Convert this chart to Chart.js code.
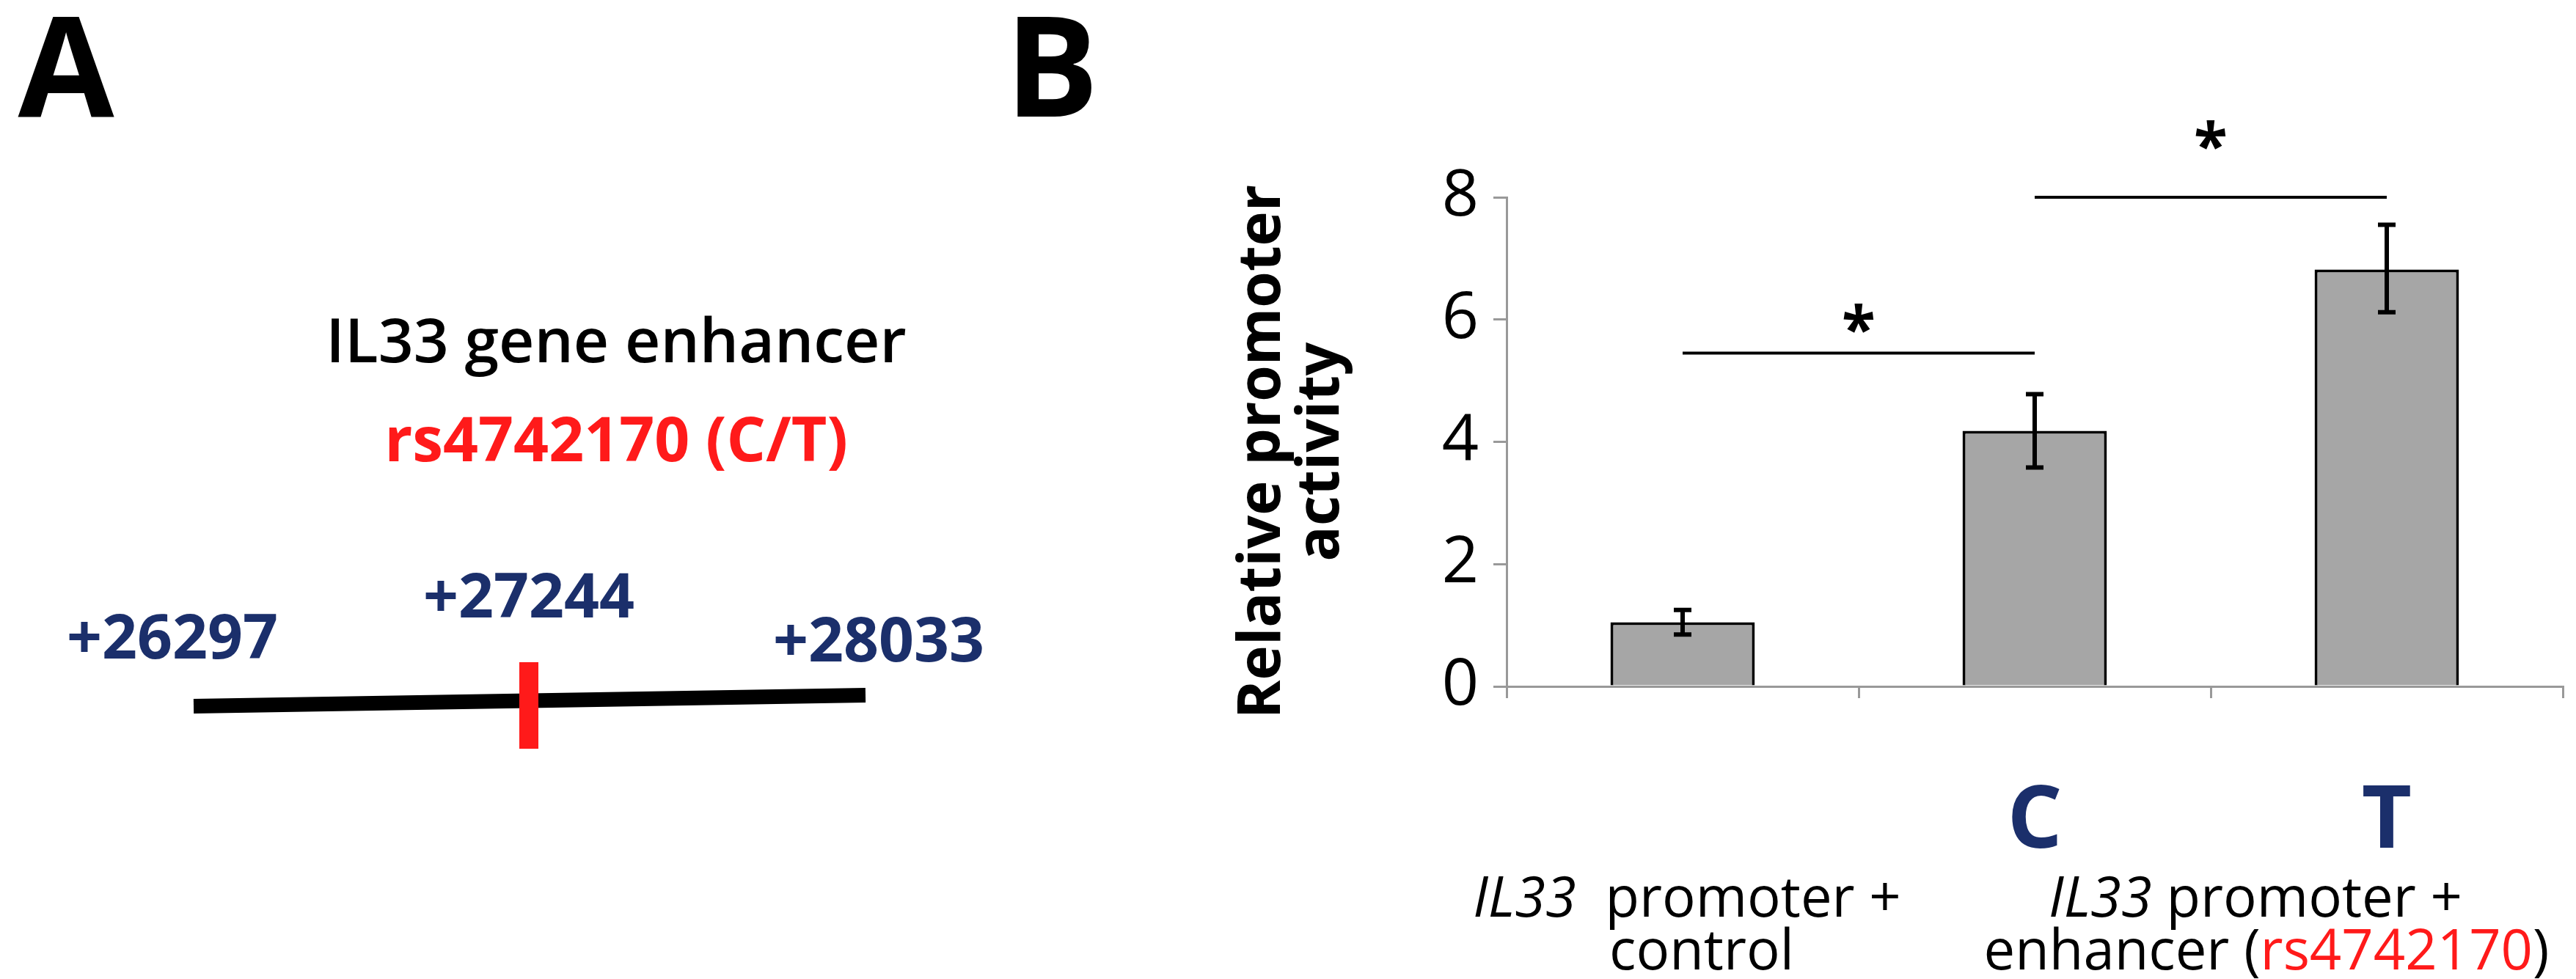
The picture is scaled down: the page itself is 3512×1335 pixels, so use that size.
<!DOCTYPE html>
<html>
<head>
<meta charset="utf-8">
<script src="https://cdn.jsdelivr.net/npm/chart.js@4"></script>
<style>
  html, body { margin: 0; padding: 0; background: #fff; }
  #wrap { width: 3512px; height: 1335px; position: relative; }
</style>
</head>
<body>
<div id="wrap"><canvas id="chart"></canvas></div>
<script>
// --- Data ---
const categories = ['control', 'C', 'T'];
const tickLabels = ['', 'C', 'T'];
const activity = [1.05, 4.18, 6.82];
const errLow = [0.85, 3.58, 6.12];
const errHigh = [1.25, 4.78, 7.55];
// significance brackets: [fromIndex, toIndex, lineValue, starValue]
const brackets = [[0, 1, 5.45, 6.0], [1, 2, 8.0, 9.0]];

const NAVY = '#1b2f6b';
const RED = '#ff1a1a';
const FONT = "'Open Sans', 'Noto Sans', sans-serif";

const extras = {
    id: 'extras',
    afterDatasetsDraw(chart) {
        const ctx = chart.ctx;
        const x = chart.scales.x, y = chart.scales.y;
        ctx.save();
        // error bars
        ctx.strokeStyle = '#000';
        ctx.lineWidth = 6;
        activity.forEach((v, i) => {
            const px = x.getPixelForValue(i);
            const lo = y.getPixelForValue(errLow[i]);
            const hi = y.getPixelForValue(errHigh[i]);
            ctx.beginPath();
            ctx.moveTo(px, lo); ctx.lineTo(px, hi);
            ctx.moveTo(px - 12, lo); ctx.lineTo(px + 12, lo);
            ctx.moveTo(px - 12, hi); ctx.lineTo(px + 12, hi);
            ctx.stroke();
        });
        // significance brackets
        ctx.lineWidth = 4;
        ctx.fillStyle = '#000';
        ctx.textAlign = 'center';
        ctx.textBaseline = 'middle';
        ctx.font = `bold 84px ${FONT}`;
        brackets.forEach(([a, b, lv, sv]) => {
            const x1 = x.getPixelForValue(a), x2 = x.getPixelForValue(b);
            const ly = y.getPixelForValue(lv);
            ctx.beginPath(); ctx.moveTo(x1, ly); ctx.lineTo(x2, ly); ctx.stroke();
            ctx.fillText('*', (x1 + x2) / 2, y.getPixelForValue(sv) + 18);
        });
        ctx.restore();
    },
    afterDraw(chart) {
        const ctx = chart.ctx;
        ctx.save();
        ctx.textAlign = 'center';
        ctx.textBaseline = 'middle';

        // panel letters
        ctx.fillStyle = '#000';
        ctx.font = `bold 190px ${FONT}`;
        ctx.fillText('A', 90, 105);
        ctx.fillText('B', 1434, 105);

        // panel A diagram
        ctx.font = `600 84px ${FONT}`;
        ctx.fillText('IL33 gene enhancer', 840, 470);
        ctx.fillStyle = RED;
        ctx.font = `bold 84px ${FONT}`;
        ctx.fillText('rs4742170 (C/T)', 840, 605);
        ctx.fillStyle = NAVY;
        ctx.font = `bold 84px ${FONT}`;
        ctx.fillText('+26297', 235, 874);
        ctx.fillText('+27244', 721, 818);
        ctx.fillText('+28033', 1198, 878);
        ctx.strokeStyle = '#000';
        ctx.lineWidth = 20;
        ctx.beginPath(); ctx.moveTo(264, 963); ctx.lineTo(1180, 948); ctx.stroke();
        ctx.strokeStyle = RED;
        ctx.lineWidth = 26;
        ctx.beginPath(); ctx.moveTo(721, 903); ctx.lineTo(721, 1021); ctx.stroke();

        // y axis title
        ctx.fillStyle = '#000';
        ctx.font = `bold 80px ${FONT}`;
        ctx.save();
        ctx.translate(1722, 616);
        ctx.rotate(-Math.PI / 2);
        ctx.fillText('Relative promoter', 0, 0);
        ctx.fillText('activity', 0, 80);
        ctx.restore();

        // bottom group labels
        const line = (parts, cx, cy) => {
            const widths = parts.map(p => { ctx.font = p[1]; return ctx.measureText(p[0]).width; });
            let px = cx - widths.reduce((s, w) => s + w, 0) / 2;
            ctx.textAlign = 'left';
            parts.forEach((p, i) => {
                ctx.font = p[1]; ctx.fillStyle = p[2] || '#000';
                ctx.fillText(p[0], px, cy); px += widths[i];
            });
            ctx.textAlign = 'center';
        };
        const reg = `500 76px ${FONT}`, ital = `italic 500 76px ${FONT}`;
        line([['IL33', ital], ['  promoter +', reg]], 2300, 1228);
        line([['control', reg]], 2320, 1300);
        line([['IL33', ital], [' promoter +', reg]], 3075, 1228);
        line([['enhancer (', reg], ['rs4742170', reg, RED], [')', reg]], 3090, 1300);
        ctx.restore();
    }
};

new Chart(document.getElementById('chart'), {
    type: 'bar',
    data: {
        labels: categories,
        datasets: [{
            data: activity,
            backgroundColor: '#a6a6a6',
            borderColor: '#000',
            borderWidth: 4,
            borderSkipped: 'bottom',
            categoryPercentage: 1,
            barPercentage: 0.41
        }]
    },
    options: {
        responsive: true,
        maintainAspectRatio: false,
        animation: false,
        layout: { padding: { left: 1800, right: 18, top: 269, bottom: 0 } },
        plugins: { legend: { display: false }, tooltip: { enabled: false } },
        scales: {
            x: {
                offset: true,
                grid: { offset: true, drawOnChartArea: false, color: '#999', lineWidth: 3, tickLength: 16 },
                border: { color: '#999', width: 3 },
                ticks: {
                    callback: (v, i) => tickLabels[i],
                    color: NAVY,
                    font: { family: FONT, size: 118, weight: 'bold' },
                    padding: 100,
                    maxRotation: 0
                },
                afterFit: s => { s.height = 399; }
            },
            y: {
                min: 0, max: 8,
                ticks: { stepSize: 2, color: '#000', font: { family: FONT, size: 88 }, padding: 20 },
                grid: { drawOnChartArea: false, color: '#999', lineWidth: 3, tickLength: 18 },
                border: { color: '#999', width: 3 },
                afterFit: s => { s.width = 254; }
            }
        }
    },
    plugins: [extras]
});
</script>
</body>
</html>
